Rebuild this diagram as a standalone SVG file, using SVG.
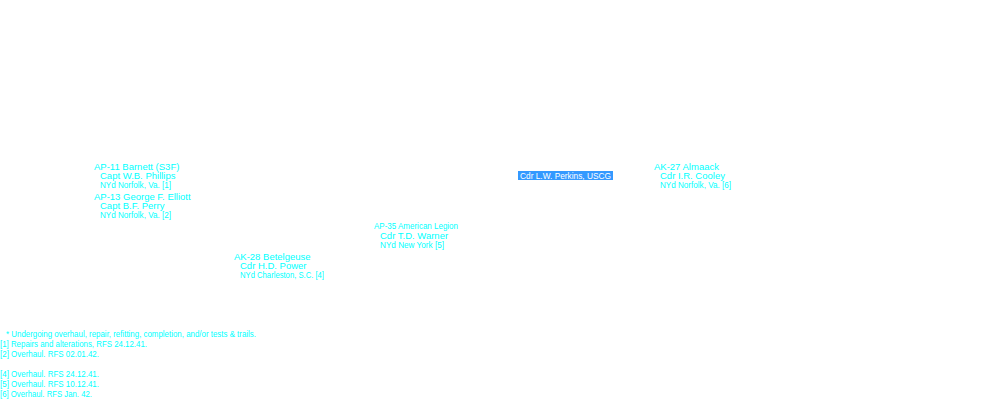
<svg xmlns="http://www.w3.org/2000/svg" width="1000" height="400" viewBox="0 0 1000 400">
<style>
text{font-family:"Liberation Sans",Arial,sans-serif;font-size:9.5px;fill:#00ffff}
.w{fill:#ffffff}
</style>
<rect width="1000" height="400" fill="#ffffff"/>
<g id="connectors"></g>
<g id="ap11"><text x="94" y="170">AP-11  Barnett (S3F)</text><text x="100" y="179">Capt  W.B. Phillips</text><text x="100" y="188" textLength="71" lengthAdjust="spacingAndGlyphs">NYd Norfolk, Va. [1]</text></g>
<g id="ap13"><text x="94" y="200">AP-13  George F. Elliott</text><text x="100" y="209">Capt  B.F. Perry</text><text x="100" y="218" textLength="71" lengthAdjust="spacingAndGlyphs">NYd Norfolk, Va. [2]</text></g>
<g id="ak28"><text x="234" y="260">AK-28  Betelgeuse</text><text x="240" y="269">Cdr  H.D. Power</text><text x="240" y="278" textLength="84" lengthAdjust="spacingAndGlyphs">NYd Charleston, S.C. [4]</text></g>
<g id="ap35"><text x="374" y="229" textLength="84" lengthAdjust="spacingAndGlyphs">AP-35 American Legion</text><text x="380" y="239">Cdr  T.D. Warner</text><text x="380" y="248" textLength="64" lengthAdjust="spacingAndGlyphs">NYd New York [5]</text></g>
<g id="perkins"><rect x="518" y="171" width="95" height="9" fill="#3399ff"/><text class="w" x="520" y="179" textLength="91" lengthAdjust="spacingAndGlyphs">Cdr  L.W. Perkins, USCG</text></g>
<g id="ak27"><text x="654" y="170">AK-27 Almaack</text><text x="660" y="179">Cdr  I.R. Cooley</text><text x="660" y="188" textLength="71" lengthAdjust="spacingAndGlyphs">NYd Norfolk, Va. [6]</text></g>
<g id="notes">
<text x="6" y="337" textLength="250" lengthAdjust="spacingAndGlyphs">* Undergoing overhaul, repair, refitting, completion, and/or tests &amp; trails.</text>
<text x="0" y="347" textLength="147" lengthAdjust="spacingAndGlyphs">[1] Repairs and alterations, RFS 24.12.41.</text>
<text x="0" y="357" textLength="99" lengthAdjust="spacingAndGlyphs">[2] Overhaul. RFS 02.01.42.</text>
<text x="0" y="377" textLength="99" lengthAdjust="spacingAndGlyphs">[4] Overhaul. RFS 24.12.41.</text>
<text x="0" y="387" textLength="99" lengthAdjust="spacingAndGlyphs">[5] Overhaul. RFS 10.12.41.</text>
<text x="0" y="397" textLength="92" lengthAdjust="spacingAndGlyphs">[6] Overhaul. RFS Jan. 42.</text>
</g>
</svg>
